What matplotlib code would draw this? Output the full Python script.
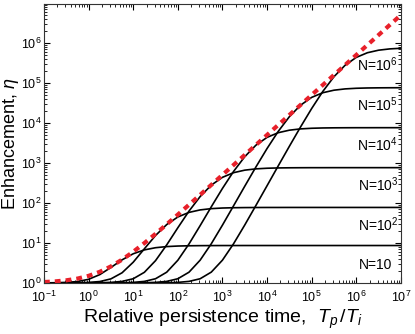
import numpy as np
import matplotlib
matplotlib.use("Agg")
from matplotlib import pyplot as plt

# values (quarter-decade steps in Tp/Ti)
x_exp = [-1.0, -0.75, -0.5, -0.25, 0.0, 0.25, 0.5, 0.75, 1.0, 1.25, 1.5, 1.75,
         2.0, 2.25, 2.5, 2.75, 3.0, 3.25, 3.5, 3.75, 4.0, 4.25, 4.5, 4.75,
         5.0, 5.25, 5.5, 5.75, 6.0, 6.25, 6.5, 6.75, 7.0]

eta_n1 = [1, 1.01, 1.03, 1.08, 1.23, 1.61, 2.43, 3.77, 5.35, 6.69, 7.58, 8.09,
          8.35, 8.48, 8.54, 8.57, 8.59, 8.59, 8.6, 8.6, 8.6, 8.6, 8.6, 8.6,
          8.6, 8.6, 8.6, 8.6, 8.6, 8.6, 8.6, 8.6, 8.6]
eta_n2 = [1, 1, 1, 1.01, 1.03, 1.08, 1.26, 1.79, 3.29, 7.13, 15.3, 28.7,
          44.5, 57.9, 66.8, 71.9, 74.5, 75.8, 76.4, 76.7, 76.9, 76.9, 77, 77,
          77, 77, 77, 77, 77, 77, 77, 77, 77]
eta_n3 = [1, 1, 1, 1, 1, 1.01, 1.03, 1.09, 1.27, 1.84, 3.6, 8.89,
          23.9, 62.3, 144, 278, 436, 570, 659, 710, 736, 749, 755, 758,
          760, 760, 761, 761, 761, 761, 761, 761, 761]
eta_n4 = [1, 1, 1, 1, 1, 1, 1, 1.01, 1.03, 1.09, 1.27, 1.85,
          3.68, 9.4, 27, 79.9, 230, 614, 1430, 2770, 4350, 5690, 6580, 7090,
          7350, 7480, 7540, 7570, 7590, 7590, 7600, 7600, 7600]
eta_n5 = [1, 1, 1, 1, 1, 1, 1, 1, 1, 1.01, 1.03, 1.09,
          1.27, 1.85, 3.7, 9.52, 27.8, 85, 261, 790, 2290, 6130, 14300, 27700,
          43500, 56900, 65800, 70900, 73500, 74800, 75400, 75700, 75900]
eta_n6 = [1, 1, 1, 1, 1, 1, 1, 1, 1, 1, 1, 1.01,
          1.03, 1.09, 1.27, 1.86, 3.7, 9.55, 28, 86.2, 269, 841, 2600, 7890,
          22900, 61300, 143000, 277000, 435000, 569000, 658000, 709000, 735000]
eta_limit = [1.05, 1.09, 1.16, 1.28, 1.5, 1.89, 2.58, 3.81, 6, 9.89, 16.8, 29.1,
             51, 89.9, 159, 282, 501, 890, 1580, 2810, 5000, 8890, 15800, 28100,
             50000, 88900, 158000, 281000, 500000, 889000, 1580000, 2810000, 5000000]

n_labels = ['N=10', r'N=10$^{2}$', r'N=10$^{3}$', r'N=10$^{4}$', r'N=10$^{5}$', r'N=10$^{6}$']
label_y_exp = [0.45, 1.45, 2.45, 3.45, 4.45, 5.45]

plt.rcParams['font.family'] = ['Liberation Sans', 'DejaVu Sans']
plt.rcParams['mathtext.fontset'] = 'custom'
plt.rcParams['mathtext.rm'] = 'Liberation Sans'
plt.rcParams['mathtext.it'] = 'Liberation Sans:italic'

x = 10**np.array(x_exp)

fig = plt.figure(figsize=(4.15, 3.34), dpi=100)
ax = fig.add_axes([0.106, 0.153, 0.86, 0.835])

for eta in [eta_n1, eta_n2, eta_n3, eta_n4, eta_n5, eta_n6]:
    ax.plot(x, eta, color='black', lw=1.2)
ax.plot(x, eta_limit, color='#e8202a', lw=3, dashes=(1.4, 1.2))

ax.set_xscale('log')
ax.set_yscale('log')
ax.set_xlim(0.1, 1e7)
ax.set_ylim(1, 9.4e6)
ax.set_yticks([10**i for i in range(7)])
ax.tick_params(which='both', direction='in', top=True, right=True, labelsize=9)
ax.tick_params(which='major', length=4)
ax.tick_params(which='minor', length=2)
ax.tick_params(axis='x', pad=5)
ax.tick_params(axis='y', pad=2)
for sp in ax.spines.values():
    sp.set_color('#333333')

ax.set_xlabel(r'Relative persistence time,  $T_p\,/T_i$', fontsize=14, labelpad=2)
ax.set_ylabel(r'Enhancement, $\eta$', fontsize=13)
ax.yaxis.set_label_coords(-0.064, 0.5)

# N=10 has no exponent, so its right edge sits a bit further left
for i, lab in enumerate(n_labels):
    xr = 10**6.8 if i == 0 else 10**6.94
    ax.text(xr, 10**label_y_exp[i], lab, ha='right', va='center', fontsize=10)

fig.savefig('out.png')
